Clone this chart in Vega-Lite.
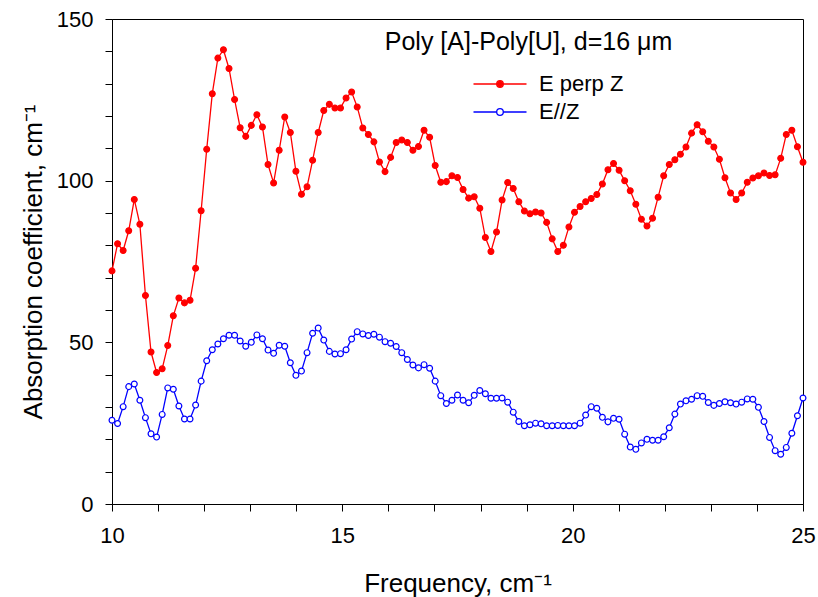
{
"$schema": "https://vega.github.io/schema/vega-lite/v6.json",
"width": 691, "height": 485,
"autosize": "none",
"padding": {"left": 112, "top": 19, "right": 15, "bottom": 93},
"background": "white",
"title": {"text": "Poly [A]-Poly[U], d=16 μm", "font": "Liberation Sans", "fontSize": 25, "fontWeight": "normal", "color": "black", "anchor": "middle", "frame": "group", "orient": "top", "baseline": "alphabetic", "offset": 0, "dx": 71, "dy": 67},
"data": {"values": [
{"f":10.000,"E perp Z":72.1,"E//Z":25.9},
{"f":10.121,"E perp Z":80.5,"E//Z":24.9},
{"f":10.242,"E perp Z":78.4,"E//Z":30.1},
{"f":10.363,"E perp Z":84.5,"E//Z":36.3},
{"f":10.484,"E perp Z":94.2,"E//Z":37.1},
{"f":10.605,"E perp Z":86.5,"E//Z":32.1},
{"f":10.726,"E perp Z":64.5,"E//Z":26.7},
{"f":10.847,"E perp Z":47.0,"E//Z":21.7},
{"f":10.968,"E perp Z":40.7,"E//Z":20.7},
{"f":11.089,"E perp Z":41.8,"E//Z":27.7},
{"f":11.210,"E perp Z":49.0,"E//Z":35.9},
{"f":11.331,"E perp Z":58.2,"E//Z":35.5},
{"f":11.452,"E perp Z":63.7,"E//Z":30.3},
{"f":11.573,"E perp Z":62.2,"E//Z":26.3},
{"f":11.694,"E perp Z":63.0,"E//Z":26.3},
{"f":11.815,"E perp Z":72.9,"E//Z":30.6},
{"f":11.935,"E perp Z":90.7,"E//Z":38.0},
{"f":12.056,"E perp Z":109.7,"E//Z":44.3},
{"f":12.177,"E perp Z":126.9,"E//Z":47.7},
{"f":12.298,"E perp Z":137.9,"E//Z":49.5},
{"f":12.419,"E perp Z":140.5,"E//Z":51.1},
{"f":12.540,"E perp Z":134.7,"E//Z":52.2},
{"f":12.661,"E perp Z":125.1,"E//Z":52.2},
{"f":12.782,"E perp Z":116.4,"E//Z":50.4},
{"f":12.903,"E perp Z":113.7,"E//Z":48.8},
{"f":13.024,"E perp Z":117.1,"E//Z":50.0},
{"f":13.145,"E perp Z":120.4,"E//Z":52.3},
{"f":13.266,"E perp Z":116.6,"E//Z":51.1},
{"f":13.387,"E perp Z":105.0,"E//Z":47.6},
{"f":13.508,"E perp Z":99.3,"E//Z":46.6},
{"f":13.629,"E perp Z":109.4,"E//Z":49.1},
{"f":13.750,"E perp Z":119.7,"E//Z":48.8},
{"f":13.871,"E perp Z":114.9,"E//Z":43.7},
{"f":13.992,"E perp Z":102.9,"E//Z":39.8},
{"f":14.113,"E perp Z":95.8,"E//Z":41.1},
{"f":14.234,"E perp Z":98.1,"E//Z":46.8},
{"f":14.355,"E perp Z":106.3,"E//Z":52.8},
{"f":14.476,"E perp Z":114.9,"E//Z":54.4},
{"f":14.597,"E perp Z":121.7,"E//Z":50.7},
{"f":14.718,"E perp Z":123.6,"E//Z":47.2},
{"f":14.839,"E perp Z":122.5,"E//Z":46.4},
{"f":14.960,"E perp Z":122.5,"E//Z":46.5},
{"f":15.081,"E perp Z":125.6,"E//Z":47.7},
{"f":15.202,"E perp Z":127.4,"E//Z":51.0},
{"f":15.323,"E perp Z":122.8,"E//Z":53.3},
{"f":15.444,"E perp Z":116.3,"E//Z":52.6},
{"f":15.565,"E perp Z":114.3,"E//Z":52.1},
{"f":15.685,"E perp Z":112.0,"E//Z":52.5},
{"f":15.806,"E perp Z":105.8,"E//Z":51.6},
{"f":15.927,"E perp Z":102.8,"E//Z":50.2},
{"f":16.048,"E perp Z":107.2,"E//Z":49.7},
{"f":16.169,"E perp Z":111.8,"E//Z":48.7},
{"f":16.290,"E perp Z":112.6,"E//Z":46.8},
{"f":16.411,"E perp Z":111.8,"E//Z":44.7},
{"f":16.532,"E perp Z":109.4,"E//Z":43.0},
{"f":16.653,"E perp Z":110.6,"E//Z":42.1},
{"f":16.774,"E perp Z":115.6,"E//Z":43.1},
{"f":16.895,"E perp Z":113.4,"E//Z":42.0},
{"f":17.016,"E perp Z":104.7,"E//Z":38.0},
{"f":17.137,"E perp Z":99.5,"E//Z":33.5},
{"f":17.258,"E perp Z":99.7,"E//Z":31.1},
{"f":17.379,"E perp Z":101.5,"E//Z":32.1},
{"f":17.500,"E perp Z":101.0,"E//Z":33.7},
{"f":17.621,"E perp Z":97.3,"E//Z":32.1},
{"f":17.742,"E perp Z":94.6,"E//Z":31.3},
{"f":17.863,"E perp Z":95.0,"E//Z":33.6},
{"f":17.984,"E perp Z":91.5,"E//Z":35.1},
{"f":18.105,"E perp Z":82.4,"E//Z":34.1},
{"f":18.226,"E perp Z":78.1,"E//Z":32.7},
{"f":18.347,"E perp Z":84.1,"E//Z":32.7},
{"f":18.468,"E perp Z":94.0,"E//Z":32.8},
{"f":18.589,"E perp Z":99.4,"E//Z":31.5},
{"f":18.710,"E perp Z":97.6,"E//Z":28.4},
{"f":18.831,"E perp Z":93.5,"E//Z":25.5},
{"f":18.952,"E perp Z":90.6,"E//Z":24.2},
{"f":19.073,"E perp Z":89.8,"E//Z":24.5},
{"f":19.194,"E perp Z":90.3,"E//Z":25.0},
{"f":19.315,"E perp Z":90.0,"E//Z":24.8},
{"f":19.435,"E perp Z":87.1,"E//Z":24.2},
{"f":19.556,"E perp Z":82.0,"E//Z":24.2},
{"f":19.677,"E perp Z":78.1,"E//Z":24.3},
{"f":19.798,"E perp Z":80.0,"E//Z":24.2},
{"f":19.919,"E perp Z":85.7,"E//Z":24.2},
{"f":20.040,"E perp Z":90.2,"E//Z":24.2},
{"f":20.161,"E perp Z":92.0,"E//Z":25.0},
{"f":20.282,"E perp Z":93.5,"E//Z":27.5},
{"f":20.403,"E perp Z":94.5,"E//Z":30.1},
{"f":20.524,"E perp Z":95.7,"E//Z":29.6},
{"f":20.645,"E perp Z":99.0,"E//Z":26.8},
{"f":20.766,"E perp Z":103.4,"E//Z":25.4},
{"f":20.887,"E perp Z":105.3,"E//Z":26.5},
{"f":21.008,"E perp Z":103.2,"E//Z":26.2},
{"f":21.129,"E perp Z":100.0,"E//Z":21.6},
{"f":21.250,"E perp Z":96.9,"E//Z":17.6},
{"f":21.371,"E perp Z":92.7,"E//Z":16.9},
{"f":21.492,"E perp Z":88.1,"E//Z":18.9},
{"f":21.613,"E perp Z":86.0,"E//Z":20.0},
{"f":21.734,"E perp Z":88.4,"E//Z":19.7},
{"f":21.855,"E perp Z":94.9,"E//Z":19.7},
{"f":21.976,"E perp Z":101.5,"E//Z":20.8},
{"f":22.097,"E perp Z":105.0,"E//Z":23.6},
{"f":22.218,"E perp Z":106.5,"E//Z":27.8},
{"f":22.339,"E perp Z":108.2,"E//Z":30.9},
{"f":22.460,"E perp Z":110.4,"E//Z":31.9},
{"f":22.581,"E perp Z":114.7,"E//Z":32.4},
{"f":22.702,"E perp Z":117.3,"E//Z":33.5},
{"f":22.823,"E perp Z":115.1,"E//Z":33.3},
{"f":22.944,"E perp Z":112.2,"E//Z":31.4},
{"f":23.065,"E perp Z":110.4,"E//Z":30.5},
{"f":23.185,"E perp Z":106.6,"E//Z":31.1},
{"f":23.306,"E perp Z":100.9,"E//Z":31.6},
{"f":23.427,"E perp Z":96.2,"E//Z":31.3},
{"f":23.548,"E perp Z":94.2,"E//Z":30.9},
{"f":23.669,"E perp Z":96.2,"E//Z":31.5},
{"f":23.790,"E perp Z":99.5,"E//Z":32.5},
{"f":23.911,"E perp Z":100.8,"E//Z":32.4},
{"f":24.032,"E perp Z":101.5,"E//Z":29.9},
{"f":24.153,"E perp Z":102.4,"E//Z":25.5},
{"f":24.274,"E perp Z":101.6,"E//Z":20.6},
{"f":24.395,"E perp Z":101.8,"E//Z":16.5},
{"f":24.516,"E perp Z":106.9,"E//Z":15.4},
{"f":24.637,"E perp Z":114.3,"E//Z":17.5},
{"f":24.758,"E perp Z":115.6,"E//Z":21.9},
{"f":24.879,"E perp Z":110.5,"E//Z":27.3},
{"f":25.000,"E perp Z":105.7,"E//Z":32.8}
]},
"transform": [{"fold": ["E perp Z", "E//Z"], "as": ["series", "value"]}],
"encoding": {
  "x": {"field": "f", "type": "quantitative",
    "scale": {"domain": [10, 25], "nice": false, "zero": false},
    "axis": {"title": "Frequency, cm⁻¹", "values": [10,11,12,13,14,15,16,17,18,19,20,21,22,23,24,25],
      "labelExpr": "datum.value % 5 === 0 ? datum.label : ''", "labelFlush": false, "labelOverlap": false,
      "tickSize": 7, "labelPadding": 14, "titlePadding": 24, "grid": false,
      "labelFont": "Liberation Sans", "labelFontSize": 22, "titleFont": "Liberation Sans", "titleFontSize": 26, "titleFontWeight": "normal",
      "domainColor": "black", "tickColor": "black", "labelColor": "black", "titleColor": "black"}},
  "y": {"field": "value", "type": "quantitative",
    "scale": {"domain": [0, 150], "nice": false},
    "axis": {"title": "Absorption coefficient, cm⁻¹", "values": [0,10,20,30,40,50,60,70,80,90,100,110,120,130,140,150],
      "labelExpr": "datum.value % 50 === 0 ? datum.label : ''", "labelFlush": false, "labelOverlap": false,
      "tickSize": 7, "labelPadding": 12, "titlePadding": 10, "grid": false,
      "labelFont": "Liberation Sans", "labelFontSize": 22, "titleFont": "Liberation Sans", "titleFontSize": 26, "titleFontWeight": "normal",
      "domainColor": "black", "tickColor": "black", "labelColor": "black", "titleColor": "black"}},
  "stroke": {"field": "series", "type": "nominal",
    "scale": {"domain": ["E perp Z", "E//Z"], "range": ["#ff0000", "#0000ff"]},
    "legend": {"orient": "none", "legendX": 377, "legendY": 54, "title": null, "padding": 0,
      "symbolType": "M-2.65,0H-0.33M0.33,0H2.65M0.33,0A0.33,0.33 0 1,1 -0.33,0A0.33,0.33 0 1,1 0.33,0Z",
      "symbolSize": 400, "symbolStrokeWidth": 1.3, "labelFont": "Liberation Sans", "labelFontSize": 22, "labelColor": "black",
      "labelOffset": 28, "rowPadding": 6,
      "labelExpr": "datum.label === 'E//Z' ? ' E//Z' : datum.label",
      "encode": {"symbols": {"update": {"fill": {"signal": "datum.value === 'E//Z' ? '#ffffff' : '#ff0000'"}, "opacity": {"value": 1}}}}}}
},
"layer": [
  {"mark": {"type": "line", "strokeWidth": 1.3}},
  {"mark": {"type": "point", "shape": "circle", "size": 34, "strokeWidth": 1.2, "opacity": 1, "filled": false},
   "encoding": {"fill": {"field": "series", "type": "nominal", "scale": {"domain": ["E perp Z", "E//Z"], "range": ["#ff0000", "#ffffff"]}, "legend": null}}}
],
"config": {"view": {"stroke": "black", "strokeWidth": 1}, "axis": {"domainWidth": 1, "tickWidth": 1}}
}
